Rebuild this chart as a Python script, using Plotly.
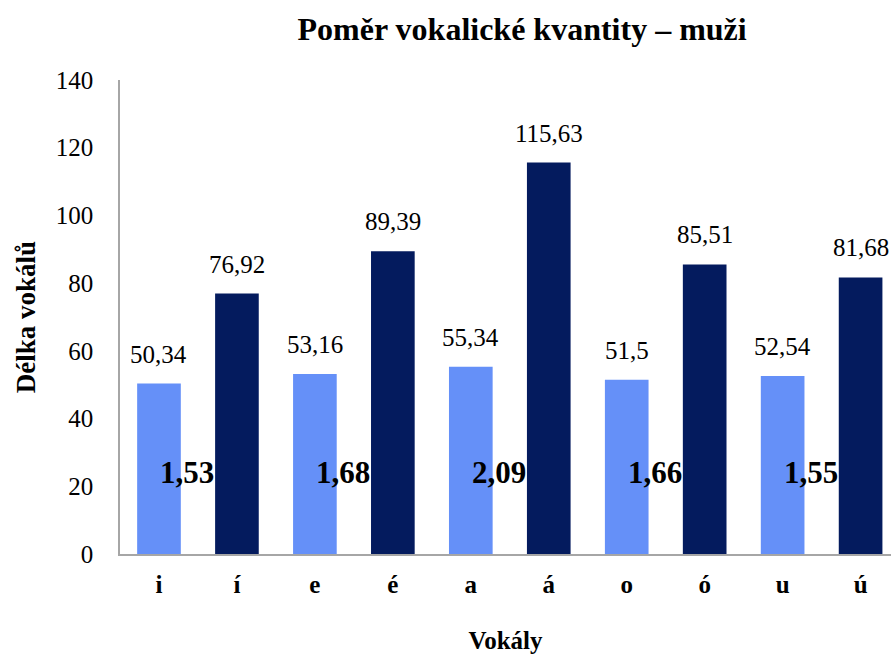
import plotly.graph_objects as go

categories = ["i", "í", "e", "é", "a", "á", "o", "ó", "u", "ú"]
values = [50.34, 76.92, 53.16, 89.39, 55.34, 115.63, 51.5, 85.51, 52.54, 81.68]
value_labels = ["50,34", "76,92", "53,16", "89,39", "55,34", "115,63", "51,5", "85,51", "52,54", "81,68"]
ratio_labels = ["1,53", "1,68", "2,09", "1,66", "1,55"]
ratio_y = 24
y_ticks = [0, 20, 40, 60, 80, 100, 120, 140]

LIGHT = "#6590F8"
DARK = "#041B5E"
FONT = "Liberation Serif, Times New Roman, serif"

x_idx = list(range(len(categories)))
colors = [LIGHT if i % 2 == 0 else DARK for i in x_idx]

fig = go.Figure()
fig.add_trace(go.Bar(
    x=x_idx, y=values, width=0.56,
    marker=dict(color=colors, line=dict(width=0)),
    showlegend=False, hoverinfo="x+y",
))

for i, (v, lab) in enumerate(zip(values, value_labels)):
    fig.add_annotation(x=i, y=v, text=lab, showarrow=False, xanchor="center",
                       yanchor="bottom", yshift=14,
                       font=dict(family=FONT, size=25, color="black"))

for k, lab in enumerate(ratio_labels):
    fig.add_annotation(x=2 * k + 0.36, y=ratio_y, text="<b>" + lab + "</b>",
                       showarrow=False, xanchor="center", yanchor="middle",
                       font=dict(family=FONT, size=31, color="black"))

fig.update_layout(
    width=891, height=659,
    margin=dict(l=120, r=0, t=80, b=105),
    paper_bgcolor="white", plot_bgcolor="white",
    title=dict(text="<b>Poměr vokalické kvantity – muži</b>", x=0.586, xanchor="center",
               y=0.956, yanchor="middle", font=dict(family=FONT, size=32, color="black")),
    font=dict(family=FONT, color="black"),
)
fig.update_xaxes(
    range=[-0.5, 9.39], tickmode="array", tickvals=x_idx,
    ticktext=["<b>" + c + "</b>" for c in categories],
    tickfont=dict(family=FONT, size=25, color="black"),
    showline=True, linecolor="#A6A6A6", linewidth=2, showgrid=False,
    ticks="", ticklabelstandoff=7,
    title=dict(text="<b>Vokály</b>", font=dict(family=FONT, size=25, color="black"), standoff=34),
    automargin=False,
)
fig.update_yaxes(
    range=[0, 140], tickvals=y_ticks,
    tickfont=dict(family=FONT, size=25, color="black"),
    showline=True, linecolor="#A6A6A6", linewidth=1.5, showgrid=False,
    zeroline=False, ticks="", ticklabelstandoff=20,
    title=dict(text="<b>Délka vokálů</b>", font=dict(family=FONT, size=27, color="black"), standoff=12),
    automargin=False,
)

fig.write_html("out.html", config={"displayModeBar": False},
               post_script="document.body.style.margin='0';document.body.style.padding='0';")
